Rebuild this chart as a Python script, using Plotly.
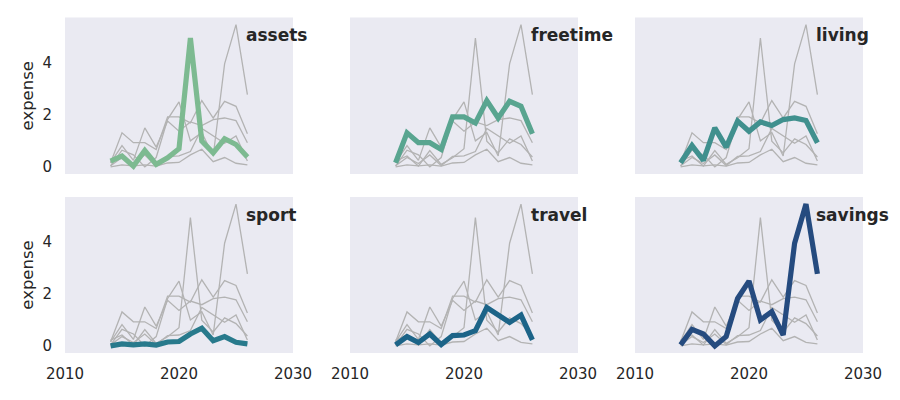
import plotly.graph_objects as go

years = list(range(2014, 2027))
categories = ["assets", "freetime", "living", "sport", "travel", "savings"]
assets   = [0.22, 0.42, 0.03, 0.63, 0.10, 0.35, 0.70, 4.95, 0.99, 0.54, 1.08, 0.86, 0.38]
freetime = [0.16, 1.31, 0.93, 0.93, 0.67, 1.92, 1.92, 1.69, 2.55, 1.88, 2.52, 2.33, 1.27]
living   = [0.16, 0.82, 0.25, 1.50, 0.76, 1.76, 1.37, 1.73, 1.59, 1.82, 1.88, 1.78, 0.93]
sport    = [0.00, 0.08, 0.04, 0.08, 0.03, 0.15, 0.17, 0.46, 0.68, 0.20, 0.36, 0.14, 0.08]
travel   = [0.04, 0.36, 0.13, 0.46, 0.05, 0.40, 0.42, 0.59, 1.48, 1.19, 0.91, 1.19, 0.23]
savings  = [0.04, 0.64, 0.46, 0.00, 0.36, 1.83, 2.50, 1.00, 1.32, 0.42, 3.96, 5.47, 2.78]
series = [assets, freetime, living, sport, travel, savings]
colors = ["#7dba91", "#59a590", "#40908e", "#287a8c", "#1c6488", "#254b7f"]
x_ticks = [2010, 2020, 2030]
y_ticks = [0, 2, 4]

W, H = 900, 400
xdoms = [(65 / W, 293 / W), (350 / W, 578 / W), (635 / W, 863 / W)]
ydoms = [(1 - 174 / H, 1 - 17.5 / H), (1 - 353 / H, 1 - 197 / H)]

allv = [v for s in series for v in s]
lo, hi = min(allv), max(allv)
pad = (hi - lo) * 0.05
yrange = [lo - pad, hi + pad]

fig = go.Figure()
font = "DejaVu Sans"
for i, (cat, vals, col) in enumerate(zip(categories, series, colors)):
    r, c = divmod(i, 3)
    n = i + 1
    xa = "x" if n == 1 else f"x{n}"
    ya = "y" if n == 1 else f"y{n}"
    for other in series:
        fig.add_trace(go.Scatter(x=years, y=other, mode="lines",
                                 line=dict(color="#b3b3b3", width=1.3),
                                 xaxis=xa, yaxis=ya, showlegend=False, hoverinfo="skip"))
    fig.add_trace(go.Scatter(x=years, y=vals, mode="lines",
                             line=dict(color=col, width=5.2),
                             xaxis=xa, yaxis=ya, showlegend=False, name=cat))
    fig.add_annotation(x=0.8, y=0.885, xref=f"{xa} domain", yref=f"{ya} domain",
                       text=f"<b>{cat}</b>", showarrow=False, xanchor="left", yanchor="middle",
                       borderpad=0, xshift=-2,
                       font=dict(family=font, size=17, color="#262626"))
    xkey = "xaxis" if n == 1 else f"xaxis{n}"
    ykey = "yaxis" if n == 1 else f"yaxis{n}"
    fig.update_layout(**{
        xkey: dict(domain=xdoms[c], anchor=ya, range=[2010, 2030], tickvals=x_ticks,
                   showticklabels=(r == 1), showgrid=False, zeroline=False, automargin=False,
                   showline=False, ticks="", ticklabelstandoff=10,
                   tickfont=dict(family=font, size=15, color="#262626")),
        ykey: dict(domain=ydoms[r], anchor=xa, range=yrange, tickvals=y_ticks,
                   showticklabels=(c == 0), showgrid=False, zeroline=False, automargin=False,
                   showline=False, ticks="", ticklabelstandoff=12,
                   tickfont=dict(family=font, size=15, color="#262626"),
                   title=dict(text="expense" if c == 0 else "", standoff=4,
                              font=dict(family=font, size=16.5, color="#262626"))),
    })

shapes = []
for r in range(2):
    for c in range(3):
        shapes.append(dict(type="rect", xref="paper", yref="paper", layer="below",
                           x0=xdoms[c][0], x1=xdoms[c][1], y0=ydoms[r][0], y1=ydoms[r][1],
                           fillcolor="#eaeaf2", line=dict(width=0)))
fig.update_layout(width=W, height=H, margin=dict(l=0, r=0, t=0, b=0),
                  paper_bgcolor="white", plot_bgcolor="rgba(0,0,0,0)", shapes=shapes,
                  font=dict(family=font))
fig.write_html("out.html")
